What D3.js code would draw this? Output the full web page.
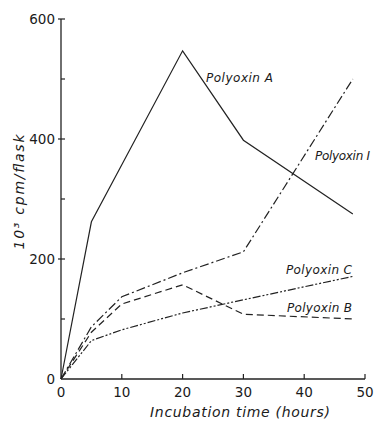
<!DOCTYPE html>
<html>
<head>
<meta charset="utf-8">
<script src="https://cdn.jsdelivr.net/npm/d3@7"></script>
<style>
  body { margin: 0; background: #fff; }
  svg text { font-family: "DejaVu Sans", sans-serif; fill: #1a1a1a; }
</style>
</head>
<body>
<svg id="chart" width="376" height="422"></svg>
<script>
var hours = [0, 5, 10, 20, 30, 48];
var polyoxinA = [0, 262, 357, 547, 398, 275];
var polyoxinI = [0, 87, 137, 177, 212, 500];
var polyoxinB = [0, 78, 125, 157, 108, 100];
var polyoxinC = [0, 64, 82, 110, 132, 171];
var xTicks = [0, 10, 20, 30, 40, 50];
var yTicks = [0, 200, 400, 600];
var yMinor = [100, 300, 500];

var series = [
  {name: "Polyoxin A", values: polyoxinA, dash: null,           lx: 206, ly: 82,  w: 67},
  {name: "Polyoxin I", values: polyoxinI, dash: "9,3,2,3",      lx: 315, ly: 160, w: 55},
  {name: "Polyoxin C", values: polyoxinC, dash: "8,2,2,2,2,2",  lx: 286, ly: 274, w: 66},
  {name: "Polyoxin B", values: polyoxinB, dash: "7,4",          lx: 287, ly: 312, w: 65}
];

var svg = d3.select("#chart");

var x = d3.scaleLinear().domain([0, 50]).range([61, 365]);
var y = d3.scaleLinear().domain([0, 600]).range([379, 19]);

// x axis
var xAxis = svg.append("g").attr("transform", "translate(0,379)");
xAxis.append("line")
  .attr("x1", x(0)).attr("x2", x(50))
  .attr("stroke", "#222").attr("stroke-width", 1.3);
xAxis.selectAll("line.tick")
  .data(xTicks.slice(1))
  .enter().append("line")
  .attr("class", "tick")
  .attr("x1", function(d) { return x(d); })
  .attr("x2", function(d) { return x(d); })
  .attr("y1", 0).attr("y2", -5)
  .attr("stroke", "#222").attr("stroke-width", 1.2);
xAxis.selectAll("text")
  .data(xTicks)
  .enter().append("text")
  .attr("x", function(d) { return x(d); })
  .attr("y", 18)
  .attr("text-anchor", "middle")
  .style("font-size", "13.5px")
  .text(function(d) { return d; });

// y axis
var yAxis = svg.append("g").attr("transform", "translate(61,0)");
yAxis.append("line")
  .attr("y1", y(0)).attr("y2", y(600))
  .attr("stroke", "#222").attr("stroke-width", 1.3);
yAxis.selectAll("line.major")
  .data(yTicks.slice(1))
  .enter().append("line")
  .attr("class", "major")
  .attr("x1", -3).attr("x2", 4)
  .attr("y1", function(d) { return y(d); })
  .attr("y2", function(d) { return y(d); })
  .attr("stroke", "#222").attr("stroke-width", 1.2);
yAxis.selectAll("line.minor")
  .data(yMinor)
  .enter().append("line")
  .attr("class", "minor")
  .attr("x1", 0).attr("x2", 4)
  .attr("y1", function(d) { return y(d); })
  .attr("y2", function(d) { return y(d); })
  .attr("stroke", "#222").attr("stroke-width", 1.2);
yAxis.selectAll("text")
  .data(yTicks)
  .enter().append("text")
  .attr("x", -6)
  .attr("y", function(d) { return y(d); })
  .attr("dy", "0.36em")
  .attr("text-anchor", "end")
  .style("font-size", "13.5px")
  .text(function(d) { return d; });

// axis titles
svg.append("text")
  .attr("x", 240).attr("y", 417)
  .attr("text-anchor", "middle")
  .attr("textLength", 180)
  .style("font-size", "14px")
  .style("font-style", "italic")
  .text("Incubation time (hours)");

svg.append("text")
  .attr("transform", "translate(24,192) rotate(-90)")
  .attr("text-anchor", "middle")
  .attr("textLength", 115)
  .style("font-size", "14px")
  .style("font-style", "italic")
  .text("10³  cpm/flask");

// lines
var line = d3.line()
  .x(function(d, i) { return x(hours[i]); })
  .y(function(d) { return y(d); });

svg.selectAll("path.series")
  .data(series)
  .enter().append("path")
  .attr("class", "series")
  .attr("d", function(d) { return line(d.values); })
  .attr("fill", "none")
  .attr("stroke", "#222")
  .attr("stroke-width", 1.2)
  .attr("stroke-dasharray", function(d) { return d.dash; });

svg.selectAll("text.label")
  .data(series)
  .enter().append("text")
  .attr("class", "label")
  .attr("x", function(d) { return d.lx; })
  .attr("y", function(d) { return d.ly; })
  .attr("textLength", function(d) { return d.w; })
  .style("font-size", "12px")
  .style("font-style", "italic")
  .text(function(d) { return d.name; });
</script>
</body>
</html>
